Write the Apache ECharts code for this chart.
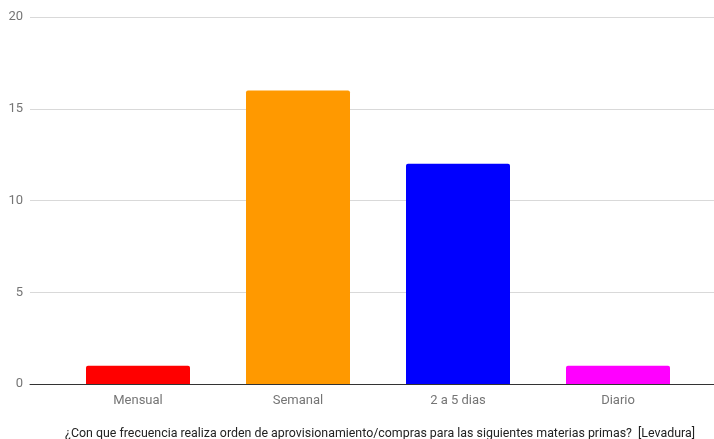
<!DOCTYPE html>
<html>
<head>
<meta charset="utf-8">
<script src="https://cdn.jsdelivr.net/npm/echarts@6/dist/echarts.min.js"></script>
<style>
  html, body { margin: 0; padding: 0; background: #fff; }
  #chart { width: 714px; height: 439px; }
</style>
</head>
<body>
<div id="chart"></div>
<script>
// Frequency of supply orders for yeast
const categories = ['Mensual', 'Semanal', '2 a 5 dias', 'Diario'];
const counts = [1, 16, 12, 1];
const barColors = ['#ff0000', '#ff9900', '#0000ff', '#ff00ff'];
const yTicks = [0, 5, 10, 15, 20];
const title = '¿Con que frecuencia realiza orden de aprovisionamiento/compras para las siguientes materias primas?  [Levadura]';

const font = 'Roboto, "Noto Sans", sans-serif';
const chart = echarts.init(document.getElementById('chart'));

chart.setOption({
  animation: false,
  backgroundColor: '#ffffff',
  title: {
    text: title,
    left: 375,
    textAlign: 'center',
    top: 423,
    textStyle: { fontFamily: font, fontSize: 12.4, fontWeight: 'normal', color: '#222222' }
  },
  grid: [
    // full-width grid carrying the value gridlines and baseline
    { left: 30, right: 0, top: 17, bottom: 55 },
    // inner grid carrying the bars
    { left: 58, right: 16, top: 17, bottom: 55 }
  ],
  xAxis: [
    {
      gridIndex: 0, type: 'category', data: categories,
      axisLine: { show: true, lineStyle: { color: '#333333', width: 1 } },
      axisTick: { show: false }, axisLabel: { show: false }, splitLine: { show: false }
    },
    {
      gridIndex: 1, type: 'category', data: categories,
      axisLine: { show: false }, axisTick: { show: false },
      axisLabel: { fontFamily: font, fontSize: 13, color: '#757575', margin: 10 }
    }
  ],
  yAxis: [
    {
      gridIndex: 0, type: 'value', min: yTicks[0], max: yTicks[yTicks.length - 1], interval: 5,
      axisLine: { show: false }, axisTick: { show: false },
      axisLabel: { fontFamily: font, fontSize: 13, color: '#757575', margin: 7 },
      splitLine: { lineStyle: { color: '#d9d9d9', width: 1 } }
    },
    {
      gridIndex: 1, type: 'value', min: yTicks[0], max: yTicks[yTicks.length - 1], interval: 5,
      show: false, splitLine: { show: false }
    }
  ],
  series: [{
    type: 'bar',
    xAxisIndex: 1,
    yAxisIndex: 1,
    barWidth: '65%',
    data: counts.map((v, i) => ({ value: v, itemStyle: { color: barColors[i], borderRadius: [2, 2, 0, 0] } }))
  }]
});
</script>
</body>
</html>
